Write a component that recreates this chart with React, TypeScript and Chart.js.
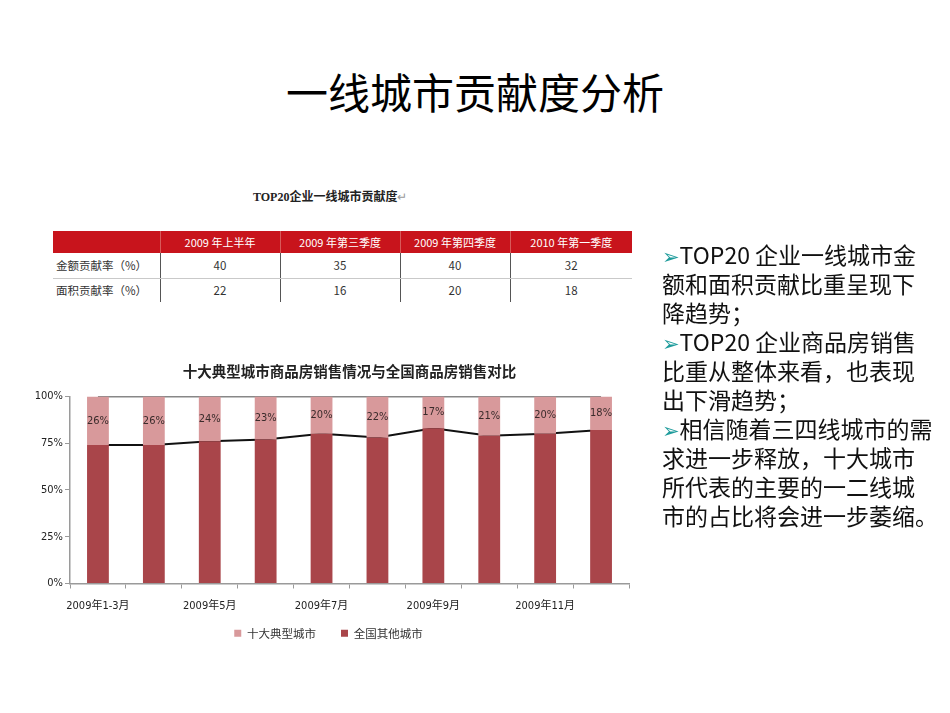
import React, { useEffect, useRef } from "react";
import { Chart, registerables } from "chart.js";

Chart.register(...registerables);

// ---- chart data ----
const categories = [
  "2009年1-3月", "2009年4月", "2009年5月", "2009年6月", "2009年7月",
  "2009年8月", "2009年9月", "2009年10月", "2009年11月", "2009年12月",
];
const topTenShare = [26, 26, 24, 23, 20, 22, 17, 21, 20, 18];
const otherShare = [74, 74, 76, 77, 80, 78, 83, 79, 80, 82];
const totalShare = [100, 100, 100, 100, 100, 100, 100, 100, 100, 100];
const yTicks = [0, 25, 50, 75, 100];

// ---- table data ----
const tableHeaders = ["2009 年上半年", "2009 年第三季度", "2009 年第四季度", "2010 年第一季度"];
const amountRow = ["金额贡献率（%）", "40", "35", "40", "32"];
const areaRow = ["面积贡献率（%）", "22", "16", "20", "18"];

// ---- bullet text ----
const bulletLines: { arrow: boolean; text: string }[] = [
  { arrow: true, text: "TOP20 企业一线城市金" },
  { arrow: false, text: "额和面积贡献比重呈现下" },
  { arrow: false, text: "降趋势；" },
  { arrow: true, text: "TOP20 企业商品房销售" },
  { arrow: false, text: "比重从整体来看，也表现" },
  { arrow: false, text: "出下滑趋势；" },
  { arrow: true, text: "相信随着三四线城市的需" },
  { arrow: false, text: "求进一步释放，十大城市" },
  { arrow: false, text: "所代表的主要的一二线城" },
  { arrow: false, text: "市的占比将会进一步萎缩。" },
];

const NARROW = "'Liberation Sans Narrow', 'DejaVu Sans Condensed', 'Noto Sans CJK SC', sans-serif";
const CJK = "'Noto Sans CJK SC', 'DejaVu Sans', sans-serif";

const PINK = "#D8999B";
const DARK = "#A9454A";

const valueLabelPlugin = {
  id: "valueLabels",
  afterDatasetsDraw(chart: any) {
    const meta = chart.getDatasetMeta(1);
    const ctx = chart.ctx;
    ctx.save();
    ctx.font = `11px ${NARROW}`;
    ctx.fillStyle = "#3a2b2b";
    ctx.textAlign = "center";
    ctx.textBaseline = "middle";
    meta.data.forEach((el: any, i: number) => {
      const v = topTenShare[i];
      ctx.fillText(`${v}%`, el.x, (el.y + el.base) / 2);
    });
    ctx.restore();
  },
};

// nudges the legend up a little, closer to the axis labels
const legendShiftPlugin = {
  id: "legendShift",
  afterLayout(chart: any) {
    const lg = chart.legend;
    if (lg) {
      lg.top -= 11;
      lg.bottom -= 11;
    }
  },
};

function StackedChart() {
  const ref = useRef<HTMLCanvasElement | null>(null);
  useEffect(() => {
    if (!ref.current) return;
    const chart = new Chart(ref.current, {
      type: "bar",
      data: {
        labels: categories,
        datasets: [
          {
            type: "bar",
            label: "全国其他城市",
            data: otherShare,
            backgroundColor: DARK,
            stack: "s",
            order: 1,
            categoryPercentage: 1,
            barPercentage: 0.39,
          },
          {
            type: "bar",
            label: "十大典型城市",
            data: topTenShare,
            backgroundColor: PINK,
            stack: "s",
            order: 1,
            categoryPercentage: 1,
            barPercentage: 0.39,
          },
          {
            type: "line",
            label: "series-other",
            data: otherShare,
            borderColor: "#111",
            borderWidth: 2,
            pointRadius: 0,
            tension: 0,
            fill: false,
            stack: "l1",
            order: 3,
          } as any,
          {
            type: "line",
            label: "series-total",
            data: totalShare,
            borderColor: "#111",
            borderWidth: 1.5,
            pointRadius: 0,
            tension: 0,
            fill: false,
            stack: "l2",
            order: 3,
          } as any,
        ],
      },
      options: {
        animation: false,
        responsive: false,
        maintainAspectRatio: false,
        layout: { padding: { left: 0, right: 37, top: 0, bottom: 0 } },
        plugins: {
          title: {
            display: true,
            text: "十大典型城市商品房销售情况与全国商品房销售对比",
            fullSize: false,
            color: "#222",
            font: { size: 14.5, weight: "bold", family: CJK },
            padding: { top: 8, bottom: 16 },
          },
          legend: {
            position: "bottom",
            labels: {
              boxWidth: 7,
              boxHeight: 7,
              padding: 25,
              color: "#333",
              font: { size: 11.5, family: CJK },
              filter: (item: any) => item.datasetIndex < 2,
              sort: (a: any, b: any) => b.datasetIndex - a.datasetIndex,
            },
          },
          tooltip: { enabled: false },
        },
        scales: {
          x: {
            stacked: true,
            afterFit: (scale: any) => {
              scale.height = 30;
            },
            grid: {
              display: true,
              drawOnChartArea: false,
              drawTicks: true,
              tickLength: 5,
              color: "#9a9a9a",
              offset: true,
            },
            border: { display: true, color: "#9a9a9a", width: 1.5 },
            ticks: {
              autoSkip: false,
              maxRotation: 0,
              minRotation: 0,
              padding: 11,
              color: "#222",
              font: { size: 11, family: NARROW },
              callback: (_v: any, i: number) => (i % 2 === 0 ? categories[i] : ""),
            },
          },
          y: {
            stacked: true,
            min: 0,
            max: 100,
            afterBuildTicks: (scale: any) => {
              scale.ticks = yTicks.map((v) => ({ value: v }));
            },
            afterFit: (scale: any) => {
              scale.width = 42;
            },
            grid: {
              display: true,
              drawOnChartArea: false,
              drawTicks: true,
              tickLength: 5,
              color: "#9a9a9a",
            },
            border: { display: true, color: "#9a9a9a", width: 1.5 },
            ticks: {
              padding: 2,
              color: "#222",
              font: { size: 11, family: NARROW },
              callback: (v: any) => `${v}%`,
            },
          },
        },
      },
      plugins: [valueLabelPlugin, legendShiftPlugin],
    });
    return () => chart.destroy();
  }, []);
  return <canvas ref={ref} width={638} height={305} style={{ display: "block", width: 638, height: 305 }} />;
}

export default function App() {
  const cellBorder = "1px solid #c9c9c9";
  const vBorder = "1px solid #555";
  const colWidths = [107, 120, 120, 110, 122];
  return (
    <div
      style={{
        position: "absolute",
        left: 0,
        top: 0,
        width: 950,
        height: 713,
        background: "#fff",
        overflow: "hidden",
        fontFamily: CJK,
      }}
    >
      <div
        style={{
          position: "absolute",
          top: 66,
          left: 0,
          width: 950,
          textAlign: "center",
          fontSize: 42,
          lineHeight: "50px",
          color: "#000",
        }}
      >
        一线城市贡献度分析
      </div>

      <div
        style={{
          position: "absolute",
          top: 189,
          left: 253,
          fontSize: 12,
          lineHeight: "16px",
          fontWeight: "bold",
          fontFamily: "'Liberation Serif', 'Noto Sans CJK SC', serif",
          color: "#222",
          whiteSpace: "nowrap",
        }}
      >
        TOP20企业一线城市贡献度<span style={{ color: "#999", fontWeight: "normal" }}>↵</span>
      </div>

      <table
        style={{
          position: "absolute",
          left: 53,
          top: 231,
          width: 579,
          borderCollapse: "collapse",
          tableLayout: "fixed",
          fontSize: 11,
          fontFamily: CJK,
        }}
      >
        <colgroup>
          {colWidths.map((w, i) => (
            <col key={i} style={{ width: w }} />
          ))}
        </colgroup>
        <tbody>
          <tr style={{ height: 22, background: "#C8141C", color: "#fff" }}>
            <td style={{ padding: 0 }}></td>
            {tableHeaders.map((h, i) => (
              <td
                key={i}
                style={{ padding: 0, textAlign: "center", borderLeft: "1px solid #d85a5a" }}
              >
                {h}
              </td>
            ))}
          </tr>
          {[amountRow, areaRow].map((row, r) => (
            <tr key={r} style={{ height: r === 0 ? 25 : 24, color: "#333", fontSize: 11.5 }}>
              {row.map((c, i) => (
                <td
                  key={i}
                  style={{
                    padding: i === 0 ? "0 0 0 3px" : 0,
                    textAlign: i === 0 ? "left" : "center",
                    borderLeft: i === 0 ? "none" : vBorder,
                    borderBottom: r === 0 ? cellBorder : "none",
                    whiteSpace: "nowrap",
                  }}
                >
                  {c}
                </td>
              ))}
            </tr>
          ))}
        </tbody>
      </table>

      <div style={{ position: "absolute", left: 28, top: 355, width: 638, height: 305 }}>
        <StackedChart />
      </div>

      <div
        style={{
          position: "absolute",
          left: 662,
          top: 240,
          fontSize: 23,
          lineHeight: "29px",
          color: "#111",
          whiteSpace: "nowrap",
        }}
      >
        {bulletLines.map((l, i) => (
          <div key={i} style={{ height: 29, overflow: "visible" }}>
            {l.arrow && (
              <span
                style={{
                  color: "#1F9C9C",
                  fontFamily: "'DejaVu Sans', sans-serif",
                  fontSize: 21,
                  lineHeight: "10px",
                  verticalAlign: "baseline",
                }}
              >
                ➢
              </span>
            )}
            {l.text}
          </div>
        ))}
      </div>
    </div>
  );
}
